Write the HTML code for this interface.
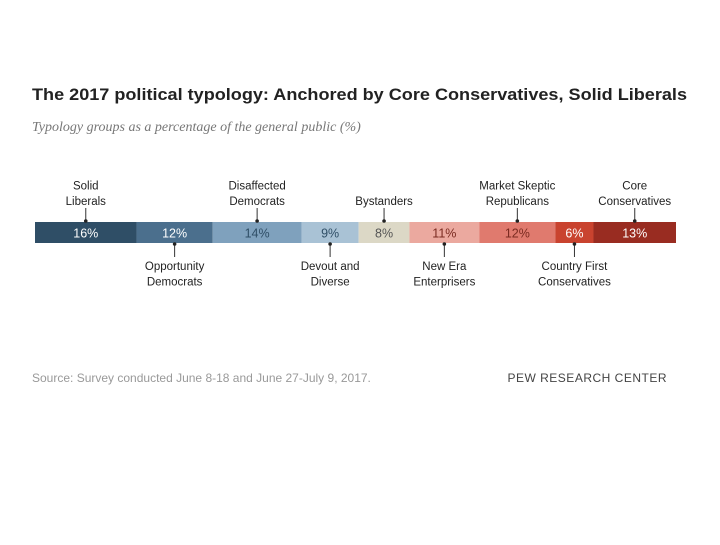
<!DOCTYPE html>
<html><head><meta charset="utf-8"><style>
body{margin:0;width:720px;height:540px;background:#fff;overflow:hidden;font-family:"Liberation Sans",sans-serif}
</style></head><body>
<svg width="720" height="540">
<text x="32" y="100" font-size="16.5" font-weight="bold" fill="#222" textLength="655" lengthAdjust="spacingAndGlyphs">The 2017 political typology: Anchored by Core Conservatives, Solid Liberals</text>
<text x="32" y="131" font-size="14" font-style="italic" font-family="Liberation Serif,serif" fill="#777">Typology groups as a percentage of the general public (%)</text>
<g id="bars"></g>
<text x="32" y="382" font-size="12" fill="#999">Source: Survey conducted June 8-18 and June 27-July 9, 2017.</text>
<text x="667" y="382" font-size="12" fill="#444" text-anchor="end" letter-spacing="0.5">PEW RESEARCH CENTER</text>
</svg>
<script>
const groups=["Solid|Liberals","Opportunity|Democrats","Disaffected|Democrats","Devout and|Diverse","Bystanders","New Era|Enterprisers","Market Skeptic|Republicans","Country First|Conservatives","Core|Conservatives"];
const values=[16,12,14,9,8,11,12,6,13];
const labelSide=["top","bottom","top","bottom","top","bottom","top","bottom","top"];
const colors=["#2f4e66","#4b6f8d","#7fa1bd","#a9c2d5","#dcd8c6","#eba99f","#e07a6e","#c9432f","#992c21"];
const textColors=["#fff","#fff","#2f4e66","#2f4e66","#555","#7a2a20","#7a2a20","#fff","#fff"];
const x0=35,x1=676,y=222,h=21;
const total=values.reduce((a,b)=>a+b,0);
const sx=v=>(x1-x0)*v/total;
const g=document.getElementById('bars');
const NS="http://www.w3.org/2000/svg";
let cx=x0;
values.forEach((v,i)=>{
 const w=sx(v);
 const r=document.createElementNS(NS,'rect');
 r.setAttribute('x',cx);r.setAttribute('y',y);r.setAttribute('width',w);r.setAttribute('height',h);r.setAttribute('fill',colors[i]);
 
 
 g.appendChild(r);
 const mid=cx+w/2;
 const t=document.createElementNS(NS,'text');
 t.setAttribute('x',mid);t.setAttribute('y',y+15.5);t.setAttribute('text-anchor','middle');t.setAttribute('font-size','12.5');t.setAttribute('fill',textColors[i]);
 t.textContent=v+'%';
 
 
 g.appendChild(t);
 const top=labelSide[i]=="top";
 const ln=document.createElementNS(NS,'line');
 ln.setAttribute('x1',mid);ln.setAttribute('x2',mid);
 ln.setAttribute('y1',top?208:y+h);ln.setAttribute('y2',top?y:257);
 ln.setAttribute('stroke','#333');ln.setAttribute('stroke-width','1');
 
 
 g.appendChild(ln);
 const d=document.createElementNS(NS,'circle');
 d.setAttribute('cx',mid);d.setAttribute('cy',top?y-1:y+h+1);d.setAttribute('r','1.8');d.setAttribute('fill','#222');
 
 
 g.appendChild(d);
 const lines=groups[i].split('|');
 const lab=document.createElementNS(NS,'text');
 lab.setAttribute('text-anchor','middle');lab.setAttribute('font-size','11.5');lab.setAttribute('fill','#222');
 
 
 lines.forEach((s,j)=>{
  const ts=document.createElementNS(NS,'tspan');
  ts.setAttribute('x',mid);
  let yy;
  if(top) yy=205-(lines.length-1-j)*15.5; else yy=270+j*15.5;
  ts.setAttribute('y',yy);ts.textContent=s;lab.appendChild(ts);
 });
 g.appendChild(lab);
 cx+=w;
});
</script>
</body></html>
